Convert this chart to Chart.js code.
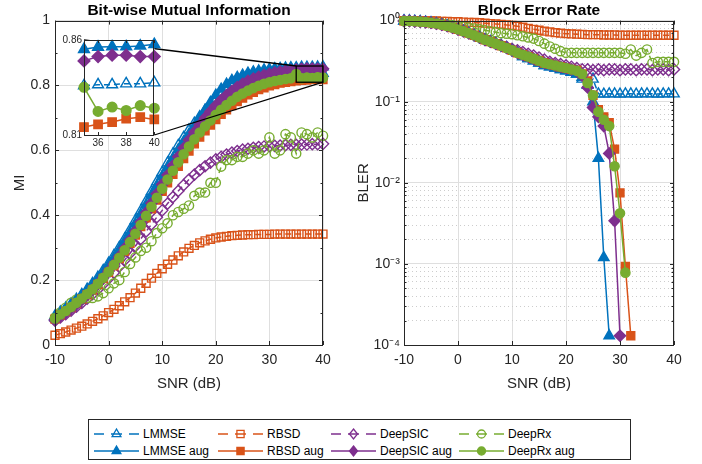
<!DOCTYPE html>
<html>
<head>
<meta charset="utf-8">
<script src="https://cdn.jsdelivr.net/npm/chart.js@4.4.1/dist/chart.umd.min.js"></script>
<style>
  body { margin: 0; width: 702px; height: 464px; background: #fff; position: relative; overflow: hidden;
         font-family: "Liberation Sans", Arial, Helvetica, sans-serif; }
  .box { position: absolute; }
  #legend { position: absolute; left: 88px; top: 419px; width: 543px; height: 41px; border: 1px solid #262626;
            box-sizing: border-box; background: #fff; }
  .item { position: absolute; height: 16px; font-size: 12px; line-height: 16px; color: #000; white-space: nowrap; }
  .item svg { position: absolute; left: 0; top: 0; }
  .item span { position: absolute; left: 49px; top: 0; }
</style>
</head>
<body>
<div class="box" style="left:0;top:0;z-index:1"><canvas id="mi" width="350" height="400"></canvas></div>
<div class="box" style="left:350px;top:0;z-index:1"><canvas id="bler" width="352" height="400"></canvas></div>
<div class="box" id="insetBox" style="left:60px;top:32px;z-index:2"><canvas id="inset" width="102" height="122"></canvas></div>
<div id="legend"></div>

<script>
// SNR grid (dB)
const snr = [-10, -9, -8, -7, -6, -5, -4, -3, -2, -1, 0, 1, 2, 3, 4, 5, 6, 7, 8, 9, 10,
  11, 12, 13, 14, 15, 16, 17, 18, 19, 20, 21, 22, 23, 24, 25, 26, 27, 28, 29, 30,
  31, 32, 33, 34, 35, 36, 37, 38, 39, 40];

// bit-wise mutual information
const miLmmse = [.09, .102, .114, .127, .141, .156, .172, .19, .209, .23, .252, .276, .301, .327, .355, .384, .413, .443, .473, .503, .532,
  .561, .589, .615, .64, .663, .684, .704, .723, .74, .755, .769, .781, .792, .801, .809, .816, .822, .827, .831, .834,
  .835, .836, .836, .837, .836, .8365, .8365, .837, .837, .8375];
const miRbsd = [.03, .035, .04, .046, .052, .058, .065, .073, .081, .09, .10, .11, .121, .133, .146, .16, .175, .19, .206, .221, .235,
  .249, .262, .275, .287, .298, .307, .315, .321, .326, .33, .333, .335, .337, .338, .339, .34, .34, .341, .341, .341,
  .342, .342, .342, .342, .342, .342, .342, .342, .342, .342];
const miDeepsic = [.075, .085, .095, .106, .118, .13, .143, .157, .172, .188, .205, .223, .242, .262, .283, .305, .327, .35, .372, .394, .415,
  .436, .456, .475, .493, .51, .525, .539, .551, .562, .572, .58, .587, .593, .598, .602, .605, .608, .61, .612, .613,
  .614, .615, .616, .617, .617, .618, .618, .619, .619, .62];
const miDeeprx = [.085, .10, .115, .13, .14, .14, .145, .145, .15, .16, .175, .19, .20, .225, .25, .27, .29, .30, .32, .345, .36,
  .375, .40, .41, .42, .43, .46, .47, .47, .50, .50, .55, .57, .57, .58, .58, .59, .60, .59, .60, .64,
  .59, .60, .65, .64, .59, .655, .65, .64, .655, .645];
const miLmmseAug = [.086, .098, .11, .123, .137, .152, .168, .185, .204, .224, .246, .269, .293, .319, .346, .374, .403, .432, .462, .491, .52,
  .548, .575, .602, .627, .65, .674, .699, .724, .748, .77, .789, .804, .816, .825, .832, .838, .842, .845, .848, .85,
  .852, .853, .854, .855, .8551, .8563, .8565, .8565, .8569, .8577];
const miRbsdAug = [.08, .092, .103, .115, .128, .141, .155, .17, .187, .205, .224, .244, .266, .289, .313, .339, .365, .392, .42, .447, .474,
  .50, .526, .551, .575, .598, .62, .641, .66, .678, .695, .711, .725, .738, .75, .761, .771, .779, .787, .793, .799,
  .803, .807, .81, .812, .8142, .8156, .8168, .8186, .8194, .8182];
const miDeepsicAug = [.078, .09, .10, .112, .125, .139, .154, .17, .188, .207, .228, .25, .273, .298, .324, .351, .379, .408, .437, .466, .495,
  .524, .553, .58, .607, .632, .656, .679, .70, .72, .738, .755, .77, .783, .795, .805, .814, .821, .827, .832, .836,
  .84, .843, .845, .847, .849, .8513, .852, .852, .8513, .8513];
const miDeeprxAug = [.082, .094, .105, .117, .13, .143, .157, .172, .189, .207, .226, .247, .269, .292, .317, .343, .37, .398, .426, .454, .482,
  .51, .537, .563, .588, .612, .634, .655, .674, .692, .71, .725, .74, .753, .765, .775, .784, .792, .799, .805, .81,
  .814, .817, .82, .822, .8351, .8224, .8247, .8229, .8255, .8241];

// block error rate (null = no block errors observed)
const blerLmmse = [.99, .99, .98, .97, .96, .94, .92, .89, .86, .82, .78, .74, .70, .66, .62, .58, .55, .52, .49, .46, .43,
  .40, .36, .34, .32, .30, .28, .27, .26, .25, .24, .23, .22, .19, .16, .19, .125, .124, .125, .125, .124,
  .125, .125, .124, .125, .125, .125, .124, .125, .125, .125];
const blerRbsd = [1, 1, 1, 1, .99, .99, .99, .98, .98, .97, .97, .96, .95, .95, .94, .93, .92, .91, .90, .885, .87,
  .85, .83, .80, .78, .76, .74, .725, .71, .70, .69, .685, .68, .675, .67, .67, .67, .665, .665, .665, .66,
  .66, .66, .66, .66, .66, .66, .66, .66, .66, .66];
const blerDeepsic = [.99, .99, .98, .97, .96, .94, .92, .89, .86, .82, .78, .74, .70, .66, .62, .58, .55, .52, .50, .475, .45,
  .43, .41, .39, .37, .35, .33, .31, .30, .29, .28, .27, .26, .25, .25, .245, .25, .245, .25, .25, .245,
  .25, .25, .245, .25, .25, .245, .25, .25, .245, .25];
const blerDeeprx = [.99, .99, .98, .97, .96, .95, .94, .92, .90, .88, .86, .84, .82, .80, .78, .76, .74, .72, .70, .69, .68,
  .66, .64, .62, .60, .56, .52, .48, .45, .42, .40, .40, .40, .40, .40, .40, .40, .40, .40, .40, .40,
  .39, .44, .37, .40, .44, .30, .31, .31, .31, .31];
const blerLmmseAug = [.99, .99, .98, .97, .96, .94, .92, .89, .86, .82, .78, .74, .70, .66, .62, .58, .55, .52, .49, .46, .43,
  .40, .36, .34, .32, .30, .28, .27, .26, .25, .24, .23, .22, .20, .16, .10, .02, .0012, .00013, null, null,
  null, null, null, null, null, null, null, null, null, null];
const blerRbsdAug = [.99, .99, .98, .97, .96, .94, .92, .89, .86, .82, .78, .74, .70, .66, .62, .58, .55, .52, .49, .46, .43,
  .40, .38, .36, .34, .32, .30, .29, .28, .27, .26, .25, .245, .22, .18, .12, .08, .065, .055, .026, .0075,
  .00093, .00013, null, null, null, null, null, null, null, null];
const blerDeepsicAug = [.99, .99, .98, .97, .96, .94, .92, .89, .86, .82, .78, .74, .70, .66, .62, .58, .55, .52, .49, .46, .43,
  .40, .38, .36, .34, .32, .30, .29, .28, .27, .26, .25, .24, .21, .15, .085, .065, .05, .023, .0034, .00013,
  null, null, null, null, null, null, null, null, null, null];
const blerDeeprxAug = [.99, .99, .98, .97, .96, .94, .92, .89, .86, .82, .78, .74, .70, .66, .62, .58, .55, .52, .49, .46, .43,
  .40, .38, .36, .34, .32, .30, .29, .28, .27, .26, .25, .24, .22, .17, .12, .075, .06, .05, .016, .0042,
  .00078, null, null, null, null, null, null, null, null, null];

// axis ticks
const snrTicks = [-10, 0, 10, 20, 30, 40];
const miTicks = [0, 0.2, 0.4, 0.6, 0.8, 1];
const miTickLabels = ['0', '0.2', '0.4', '0.6', '0.8', '1'];
const miMinorTicks = [0.1, 0.3, 0.5, 0.7, 0.9];
const blerDecades = [1e-4, 1e-3, 1e-2, 1e-1, 1];
const blerTickLabels = ['10\u207B\u2074', '10\u207B\u00B3', '10\u207B\u00B2', '10\u207B\u00B9', '10\u2070'];
const insetSnr = [35, 40];
const insetMi = [0.81, 0.86];
const insetSnrTicks = [36, 38, 40];
const insetMiTicks = [0.81, 0.86];

const series = [
  { label: 'LMMSE', color: '#0072BD', marker: 'triangle', filled: false, mi: miLmmse, bler: blerLmmse },
  { label: 'RBSD', color: '#D95319', marker: 'rect', filled: false, mi: miRbsd, bler: blerRbsd },
  { label: 'DeepSIC', color: '#7E2F8E', marker: 'rectRot', filled: false, mi: miDeepsic, bler: blerDeepsic },
  { label: 'DeepRx', color: '#77AC30', marker: 'circle', filled: false, mi: miDeeprx, bler: blerDeeprx },
  { label: 'LMMSE aug', color: '#0072BD', marker: 'triangle', filled: true, mi: miLmmseAug, bler: blerLmmseAug },
  { label: 'RBSD aug', color: '#D95319', marker: 'rect', filled: true, mi: miRbsdAug, bler: blerRbsdAug },
  { label: 'DeepSIC aug', color: '#7E2F8E', marker: 'rectRot', filled: true, mi: miDeepsicAug, bler: blerDeepsicAug },
  { label: 'DeepRx aug', color: '#77AC30', marker: 'circle', filled: true, mi: miDeeprxAug, bler: blerDeeprxAug },
];

const markerRadius = { triangle: 6, rect: 5.6, rectRot: 5.6, circle: 4.6 };
const axisColor = '#262626';
const gridColor = '#dfdfdf';
const minorGridColor = '#cdcdcd';

Chart.defaults.font.family = '"Liberation Sans", Arial, Helvetica, sans-serif';
Chart.defaults.color = axisColor;
Chart.defaults.animation = false;

function datasets(key, from, scale) {
  return series.map((s, i) => ({
    label: s.label,
    data: snr.slice(from).map((x, j) => ({ x, y: s[key][from + j] })),
    borderColor: s.color,
    backgroundColor: s.color,
    borderWidth: 1.5,
    borderDash: s.filled ? [] : [6, 4],
    pointStyle: s.marker,
    pointRadius: markerRadius[s.marker] * scale,
    pointBorderWidth: 1.4,
    pointBorderColor: s.color,
    pointBackgroundColor: s.filled ? s.color : 'rgba(0,0,0,0)',
    order: series.length - i,
    clip: false,
  }));
}

const isDecade = v => Math.abs(Math.log10(v) - Math.round(Math.log10(v))) < 1e-6;

// box around the axes with inward tick marks, like the original figure
const framePlugin = {
  id: 'frame',
  afterDatasetsDraw(chart, args, o) {
    const { ctx, chartArea: a, scales } = chart;
    ctx.save();
    ctx.strokeStyle = axisColor;
    ctx.lineWidth = 1;
    ctx.beginPath();
    (o.xMajor || []).forEach(v => {
      const px = Math.round(scales.x.getPixelForValue(v)) + 0.5;
      ctx.moveTo(px, a.bottom); ctx.lineTo(px, a.bottom - o.len);
      ctx.moveTo(px, a.top); ctx.lineTo(px, a.top + o.len);
    });
    (o.yMajor || []).forEach(v => {
      const py = Math.round(scales.y.getPixelForValue(v)) + 0.5;
      ctx.moveTo(a.left, py); ctx.lineTo(a.left + o.len, py);
      ctx.moveTo(a.right, py); ctx.lineTo(a.right - o.len, py);
    });
    (o.yMinor || []).forEach(v => {
      const py = Math.round(scales.y.getPixelForValue(v)) + 0.5;
      ctx.moveTo(a.left, py); ctx.lineTo(a.left + o.minorLen, py);
      ctx.moveTo(a.right, py); ctx.lineTo(a.right - o.minorLen, py);
    });
    ctx.stroke();
    ctx.strokeRect(Math.round(a.left) + 0.5, Math.round(a.top) + 0.5,
      Math.round(a.right - a.left) - 1, Math.round(a.bottom - a.top));
    ctx.restore();
  }
};

const whiteArea = {
  id: 'whiteArea',
  beforeDraw(chart) {
    const { ctx, chartArea: a } = chart;
    ctx.save();
    ctx.fillStyle = '#fff';
    ctx.fillRect(a.left, a.top, a.right - a.left, a.bottom - a.top);
    ctx.restore();
  }
};

// ---------- inset ----------
const insetLeft = 60, insetTop = 32;
const insetChart = new Chart(document.getElementById('inset'), {
  type: 'line',
  data: { datasets: datasets('mi', snr.indexOf(insetSnr[0]), 1.05) },
  plugins: [whiteArea, framePlugin],
  options: {
    responsive: false,
    layout: { padding: { top: 7, right: 7, left: 0, bottom: 0 } },
    scales: {
      x: {
        type: 'linear', min: insetSnr[0], max: insetSnr[1],
        afterBuildTicks: s => { s.ticks = insetSnrTicks.map(value => ({ value })); },
        ticks: { font: { size: 10 }, padding: 2, maxRotation: 0 },
        grid: { display: false, drawTicks: false },
        border: { display: false },
        afterFit: s => { s.height = 19; }
      },
      y: {
        min: insetMi[0], max: insetMi[1],
        afterBuildTicks: s => { s.ticks = insetMiTicks.map(value => ({ value })); },
        ticks: { font: { size: 10 }, padding: 2 },
        grid: { display: false, drawTicks: false },
        border: { display: false },
        afterFit: s => { s.width = 24; }
      }
    },
    plugins: {
      legend: { display: false },
      tooltip: { enabled: false },
      frame: { xMajor: insetSnrTicks, yMajor: [], len: 3, minorLen: 2 }
    }
  }
});

// zoom rectangle in the MI plot and the two lines to the inset
const zoomLinks = {
  id: 'zoomLinks',
  afterDatasetsDraw(chart) {
    const { ctx, scales: { x, y } } = chart;
    const ia = insetChart.chartArea;
    const x0 = x.getPixelForValue(insetSnr[0]), x1 = x.getPixelForValue(insetSnr[1]);
    const y0 = y.getPixelForValue(insetMi[1]), y1 = y.getPixelForValue(insetMi[0]);
    ctx.save();
    ctx.strokeStyle = '#000';
    ctx.lineWidth = 1.3;
    ctx.strokeRect(x0, y0, x1 - x0, y1 - y0);
    ctx.beginPath();
    ctx.moveTo(insetLeft + ia.left, insetTop + ia.top); ctx.lineTo(x0, y0);
    ctx.moveTo(insetLeft + ia.right, insetTop + ia.bottom); ctx.lineTo(x1, y1);
    ctx.stroke();
    ctx.restore();
  }
};

function xAxis() {
  return {
    type: 'linear', min: -10, max: 40,
    afterBuildTicks: s => { s.ticks = snrTicks.map(value => ({ value })); },
    ticks: { font: { size: 14 }, padding: 7, maxRotation: 0 },
    grid: { color: gridColor, drawTicks: false },
    border: { display: false },
    title: { display: true, text: 'SNR (dB)', font: { size: 15 }, padding: { top: 0, bottom: 2 } },
    afterFit: s => { s.height = 50; }
  };
}

function title(text) {
  return { display: true, text, fullSize: false, color: '#000',
           font: { size: 15.5, weight: 'bold' }, padding: { top: 0, bottom: 1 } };
}

// ---------- MI ----------
new Chart(document.getElementById('mi'), {
  type: 'line',
  data: { datasets: datasets('mi', 0, 1) },
  plugins: [framePlugin, zoomLinks],
  options: {
    responsive: false,
    layout: { padding: { top: 1, right: 27, left: 0, bottom: 5 } },
    scales: {
      x: xAxis(),
      y: {
        min: 0, max: 1,
        afterBuildTicks: s => { s.ticks = miTicks.map(value => ({ value })); },
        ticks: { font: { size: 14 }, padding: 5, callback: (v, i) => miTickLabels[i] },
        grid: { color: gridColor, drawTicks: false },
        border: { display: false },
        title: { display: true, text: 'MI', font: { size: 15 }, padding: { top: 11, bottom: 0 } },
        afterFit: s => { s.width = 55; }
      }
    },
    plugins: {
      legend: { display: false },
      tooltip: { enabled: false },
      title: title('Bit-wise Mutual Information'),
      frame: { xMajor: snrTicks, yMajor: miTicks, yMinor: miMinorTicks, len: 4, minorLen: 2.5 }
    }
  }
});

// ---------- BLER ----------
const blerMinor = [];
blerDecades.slice(0, -1).forEach(d => { for (let k = 2; k <= 9; k++) blerMinor.push(k * d); });
const blerGrid = blerDecades.concat(blerMinor).sort((a, b) => a - b);

new Chart(document.getElementById('bler'), {
  type: 'line',
  data: { datasets: datasets('bler', 0, 1) },
  plugins: [framePlugin],
  options: {
    responsive: false,
    layout: { padding: { top: 1, right: 28, left: 0, bottom: 5 } },
    scales: {
      x: xAxis(),
      y: {
        type: 'logarithmic', min: 1e-4, max: 1,
        afterBuildTicks: s => { s.ticks = blerGrid.map(value => ({ value, major: isDecade(value) })); },
        ticks: {
          autoSkip: false, font: { size: 14 }, padding: 4,
          callback: v => {
            const i = blerDecades.findIndex(d => Math.abs(Math.log10(d) - Math.log10(v)) < 1e-6);
            return i >= 0 ? blerTickLabels[i] : '';
          }
        },
        grid: {
          drawTicks: false,
          color: c => (c.tick && !isDecade(c.tick.value)) ? minorGridColor : gridColor
        },
        border: {
          display: false,
          dash: c => (c.tick && !isDecade(c.tick.value)) ? [1, 3] : []
        },
        title: { display: true, text: 'BLER', font: { size: 15 }, padding: { top: 5, bottom: 0 } },
        afterFit: s => { s.width = 54; }
      }
    },
    plugins: {
      legend: { display: false },
      tooltip: { enabled: false },
      title: title('Block Error Rate'),
      frame: { xMajor: snrTicks, yMajor: blerDecades, yMinor: blerMinor, len: 4, minorLen: 2.5 }
    }
  }
});

// ---------- legend (two rows, four columns) ----------
const legendCols = [5, 129, 242, 370];
const legendRows = [14, 31];

function markerSvg(s) {
  const c = s.color, f = s.filled ? c : 'none', cx = 22.5, cy = 8;
  if (s.marker === 'triangle') return `<polygon points="${cx},${cy - 5} ${cx + 4.4},${cy + 2.6} ${cx - 4.4},${cy + 2.6}" fill="${f}" stroke="${c}" stroke-width="1.3"/>`;
  if (s.marker === 'rect') return `<rect x="${cx - 3.6}" y="${cy - 3.6}" width="7.2" height="7.2" fill="${f}" stroke="${c}" stroke-width="1.3"/>`;
  if (s.marker === 'rectRot') return `<polygon points="${cx},${cy - 5} ${cx + 4},${cy} ${cx},${cy + 5} ${cx - 4},${cy}" fill="${f}" stroke="${c}" stroke-width="1.3"/>`;
  return `<circle cx="${cx}" cy="${cy}" r="4" fill="${f}" stroke="${c}" stroke-width="1.3"/>`;
}

const legendEl = document.getElementById('legend');
series.forEach((s, i) => {
  const col = i % 4, row = Math.floor(i / 4);
  const line = s.filled
    ? `<line x1="0" y1="8" x2="45" y2="8" stroke="${s.color}" stroke-width="1.5"/>`
    : [[0, 10], [17, 28], [35, 45]].map(([a, b]) =>
        `<line x1="${a}" y1="8" x2="${b}" y2="8" stroke="${s.color}" stroke-width="1.5"/>`).join('');
  const div = document.createElement('div');
  div.className = 'item';
  div.style.left = legendCols[col] + 'px';
  div.style.top = (legendRows[row] - 8) + 'px';
  div.innerHTML = `<svg width="46" height="16">${line}${markerSvg(s)}</svg><span>${s.label}</span>`;
  legendEl.appendChild(div);
});
</script>
</body>
</html>
